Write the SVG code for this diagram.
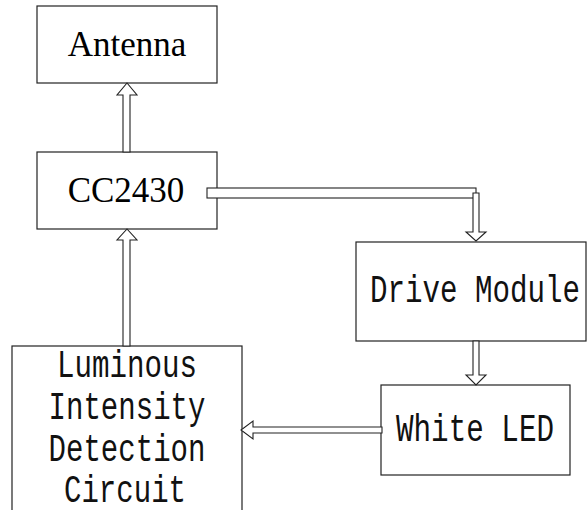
<svg xmlns="http://www.w3.org/2000/svg" width="587" height="510" viewBox="0 0 587 510">
<style>
.box{fill:#fff;stroke:#222;stroke-width:1.2}
.arr{fill:#fff;stroke:#222;stroke-width:1.1}
.serif{font-family:"Liberation Serif","Times New Roman",serif;font-size:35px;fill:#000}
.mono{font-family:"Liberation Mono","Courier New",monospace;font-size:38px;fill:#111}
</style>
<rect width="587" height="510" fill="#fff"/>
<g id="antenna">
<rect class="box" x="37" y="6" width="180" height="77"/>
<text class="serif" x="127" y="56" text-anchor="middle">Antenna</text>
</g>
<g id="cc2430">
<rect class="box" x="37" y="152" width="180" height="77"/>
<text class="serif" x="126" y="202" text-anchor="middle">CC2430</text>
</g>
<g id="drive">
<rect class="box" x="356" y="242" width="230" height="99"/>
<text class="mono" x="370" y="302" textLength="210" lengthAdjust="spacingAndGlyphs">Drive Module</text>
</g>
<g id="led">
<rect class="box" x="381" y="385" width="189" height="90"/>
<text class="mono" x="396" y="441" textLength="158" lengthAdjust="spacingAndGlyphs">White LED</text>
</g>
<g id="luminous">
<rect class="box" x="12" y="346" width="230" height="180"/>
<text class="mono" x="127" y="377" text-anchor="middle" textLength="140" lengthAdjust="spacingAndGlyphs">Luminous</text>
<text class="mono" x="127" y="419" text-anchor="middle" textLength="157" lengthAdjust="spacingAndGlyphs">Intensity</text>
<text class="mono" x="127" y="461" text-anchor="middle" textLength="157" lengthAdjust="spacingAndGlyphs">Detection</text>
<text class="mono" x="125" y="502" text-anchor="middle" textLength="122" lengthAdjust="spacingAndGlyphs">Circuit</text>
</g>
<g id="connectors">
<polygon class="arr" points="123,152 123,95 117,95 127,83 137,95 130,95 130,152"/>
<rect class="arr" x="207" y="188" width="269" height="10"/>
<polygon class="arr" points="473,193 473,232 466,232 476,241 486,232 479,232 479,193"/>
<polygon class="arr" points="473,341 473,375 466,375 476,385 486,375 479,375 479,341"/>
<polygon class="arr" points="382,427 253,427 253,421 241,430 253,439 253,433 382,433"/>
<polygon class="arr" points="123,346 123,240 117,240 127,229 137,240 130,240 130,346"/>
</g>
</svg>
